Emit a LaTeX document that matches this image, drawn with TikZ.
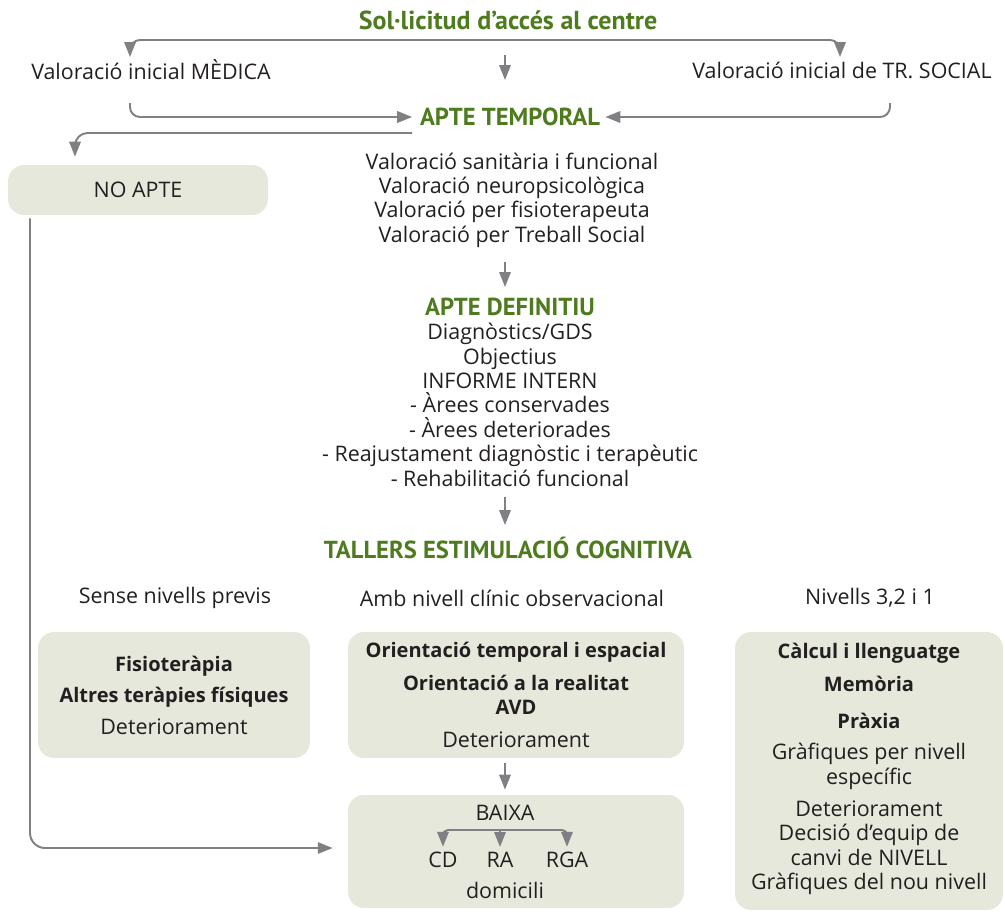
\documentclass[tikz,border=0pt]{standalone}
\usepackage{fontspec}
\setmainfont{Open Sans}
\newfontfamily\headfont{PT Sans}
\usetikzlibrary{arrows.meta}
\definecolor{titlegreen}{HTML}{4E7B1E}
\definecolor{boxfill}{HTML}{E6E8DB}
\definecolor{linegray}{HTML}{7F8084}
\definecolor{inkgray}{HTML}{231F20}
\tikzset{
	body/.style={font=\fontsize{12.2}{13.9}\selectfont, text=inkgray, align=center, inner sep=0pt},
	head/.style={font=\headfont\bfseries\fontsize{14}{15}\selectfont, text=titlegreen, inner sep=0pt},
	panel/.style={body, fill=boxfill, rounded corners=0.32cm},
	wire/.style={draw=linegray, line width=1.1pt},
	conn/.style={wire, -{Triangle[length=8.5pt,width=6.5pt]}},
}
\newcommand{\greenhead}[1]{{\headfont\bfseries\fontsize{14}{15}\selectfont\color{titlegreen}#1}}
\newcommand{\boxbold}[1]{{\bfseries\fontsize{11.4}{13.9}\selectfont#1}}
\begin{document}
\begin{tikzpicture}[x=0.02cm,y=-0.02cm]
	\useasboundingbox (0,0) rectangle (1005,923);
	\coordinate (axis) at (505,0);
	% entrada
	\node[head, font=\headfont\bfseries\fontsize{14.8}{15}\selectfont] (solicitud) at (508,20) {Sol·licitud d’accés al centre};
	\node[body] (medica) at (151,70) {Valoració inicial MÈDICA};
	\node[body] (social) at (842,70) {Valoració inicial de TR. SOCIAL};
	\node[head] (temporal) at (510,117) {APTE TEMPORAL};
	\coordinate (medtip) at (130,57);
	\coordinate (soctip) at (840,57);
	\coordinate (split) at (505,40);
	\coordinate (medout) at (130,103);
	\coordinate (socout) at (890,103);
	\coordinate (noout) at (412,133);
	\draw[wire, rounded corners=0.2cm, {Triangle[length=8.5pt,width=6.5pt]}-{Triangle[length=8.5pt,width=6.5pt]}]
		(medtip) |- (split) -| (soctip);
	\draw[conn] (505,55) -- (505,80);
	\draw[conn, rounded corners=0.2cm] (medout) |- ([xshift=-0.15cm]temporal.west);
	\draw[conn, rounded corners=0.2cm] (socout) |- ([xshift=0.1cm]temporal.east);
	% no apte
	\node[panel, minimum width=5.2cm, minimum height=1cm] (noapte) at (138,190) {NO APTE};
	\draw[conn, rounded corners=0.25cm] (noout) -| ([xshift=-1.26cm,yshift=0.16cm]noapte.north);
	% valoracions
	\node[body] (valoracions) at (512,200) {Valoració sanitària i funcional\\Valoració neuropsicològica\\Valoració per fisioterapeuta\\Valoració per Treball Social};
	\node[body] (definitiu) at (510,392) {\greenhead{APTE DEFINITIU}\\Diagnòstics/GDS\\Objectius\\INFORME INTERN\\- Àrees conservades\\- Àrees deteriorades\\- Reajustament diagnòstic i terapèutic\\- Rehabilitació funcional};
	\node[head] (tallers) at (508,548) {TALLERS ESTIMULACIÓ COGNITIVA};
	\draw[conn] (505,262) -- (505,287);
	\draw[conn] (505,497) -- (505,525);
	% tallers
	\node[body] (sense) at (175,598) {Sense nivells previs};
	\node[body] (amb) at (512,598) {Amb nivell clínic observacional};
	\node[body] (nivells) at (870,598) {Nivells 3,2 i 1};
	\node[panel, minimum width=5.44cm, minimum height=2.52cm] (fisio) at (174,695)
		{\boxbold{Fisioteràpia}\\[4pt]\boxbold{Altres teràpies físiques}\\[4pt]Deteriorament};
	\node[panel, minimum width=6.72cm, minimum height=2.52cm] (orientacio) at (516,695)
		{\boxbold{Orientació temporal i espacial}\\[5pt]\boxbold{Orientació a la realitat}\\\boxbold{AVD}\\[5pt]Deteriorament};
	\node[panel, minimum width=5.36cm, minimum height=5.56cm] (calcul) at (869,771) {};
	\node[body] (calcultext) at (869,769)
		{\boxbold{Càlcul i llenguatge}\\[5pt]\boxbold{Memòria}\\[7pt]\boxbold{Pràxia}\\[4pt]Gràfiques per nivell\\específic\\[4.5pt]Deteriorament\\Decisió d’equip de\\canvi de NIVELL\\Gràfiques del nou nivell};
	% baixa
	\node[panel, minimum width=6.72cm, minimum height=2.26cm] (baixabox) at (516,851.5) {};
	\node[body] (baixa) at (505,813) {BAIXA};
	\node[body] (cd) at (443,860) {CD};
	\node[body] (ra) at (500,860) {RA};
	\node[body] (rga) at (567,860) {RGA};
	\node[body] (domicili) at (505,890) {domicili};
	\coordinate (barmid) at (500,830);
	\draw[conn] (orientacio.south -| axis) ++(0,5) -- ([yshift=0.1cm]baixabox.north -| axis);
	\draw[conn, rounded corners=0.1cm] (barmid) -| ([yshift=0.1cm]cd.north);
	\draw[conn, rounded corners=0.1cm] (barmid) -| ([yshift=0.1cm]rga.north);
	\draw[conn] (barmid) -- ([yshift=0.1cm]ra.north);
	\draw[conn, rounded corners=0.3cm] ([xshift=-2.16cm,yshift=-0.06cm]noapte.south) |- ([xshift=-0.3cm,yshift=0.07cm]baixabox.west);
\end{tikzpicture}
\end{document}
